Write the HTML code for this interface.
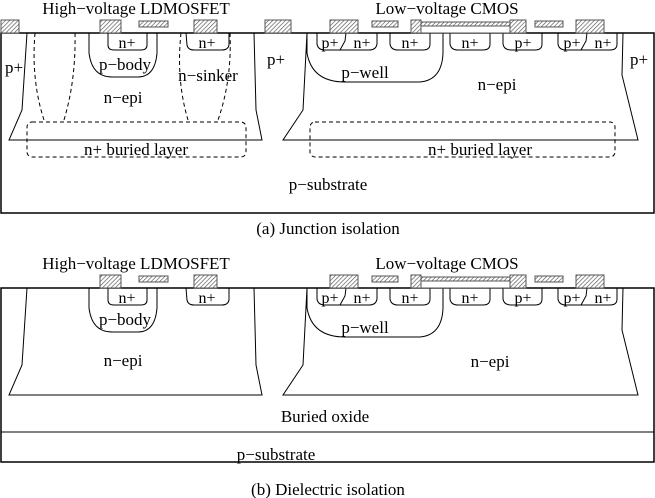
<!DOCTYPE html>
<html><head><style>
body{margin:0;background:#fff;}
svg{display:block;}
text{font-family:"Liberation Serif",serif;font-size:17px;fill:#000;}
.s{font-size:16px;}
</style></head><body>
<svg width="655" height="498" viewBox="0 0 655 498" xmlns="http://www.w3.org/2000/svg">
<defs>
<pattern id="h" width="3" height="3" patternUnits="userSpaceOnUse" patternTransform="rotate(45)">
<rect width="3" height="3" fill="#fff"/><line x1="0" y1="0" x2="0" y2="3" stroke="#555" stroke-width="1.3"/>
</pattern>
<g id="common" fill="none" stroke="#000" stroke-width="1">
<path d="M27,0 L22,77 L9,107 L262,107 L256,77 L254,0"/>
<path d="M307,0 L303,77 L283,107 L638,107 L622,42 L623,0"/>
<path d="M89,0 L89,20 Q92,44 112,44 L138,44 Q155,44 157,20 L157,0"/>
<path d="M108,0 L108,12 Q108,17 114,17 L141,17 Q147,17 147,12 L147,0"/>
<path d="M186,0 L187,12 Q188,17 194,17 L222,17 Q228,17 229,12 L229,0"/>
<path d="M307,0 L307,20 Q312,49 345,49 L420,49 Q442,47 443,20 L443,0"/>
<path d="M317,0 L317,11 Q318,17 325,17 L369,17 Q376,17 377,11 L377,0 M346,0 L345,8 L340,17"/>
<path d="M390,0 L390,11 Q391,17 398,17 L423,17 Q430,17 430,11 L430,0"/>
<path d="M450,0 L450,11 Q451,17 458,17 L483,17 Q490,17 490,11 L490,0"/>
<path d="M503,0 L503,11 Q504,17 511,17 L535,17 Q542,17 542,11 L542,0"/>
<path d="M558,0 L558,11 Q559,17 566,17 L610,17 Q617,17 617,11 L617,0 M587,0 L586,8 L581,17"/>
</g>
<g id="gates" stroke="#555" stroke-width="1">
<rect x="100" y="-13" width="21" height="13" fill="url(#h)"/>
<rect x="139" y="-12" width="29" height="6" fill="url(#h)"/>
<rect x="194" y="-13" width="23" height="13" fill="url(#h)"/>
<rect x="330" y="-13" width="28" height="13" fill="url(#h)"/>
<rect x="372" y="-12" width="26" height="6" fill="url(#h)"/>
<rect x="421" y="-11" width="89" height="4" fill="url(#h)"/>
<rect x="421" y="-7" width="89" height="7" fill="#fff"/>
<rect x="411" y="-13" width="10" height="13" fill="url(#h)"/>
<rect x="510" y="-13" width="16" height="13" fill="url(#h)"/>
<rect x="535" y="-12" width="28" height="6" fill="url(#h)"/>
<rect x="576" y="-13" width="28" height="13" fill="url(#h)"/>
</g>
</defs>

<!-- (a) -->
<rect x="1" y="33" width="653" height="180" fill="none" stroke="#000" stroke-width="1.5"/>
<use href="#common" transform="translate(0,33)"/>
<use href="#gates" transform="translate(0,33)"/>
<rect x="1" y="20" width="18" height="13" fill="url(#h)" stroke="#555"/>
<rect x="265" y="20" width="26" height="13" fill="url(#h)" stroke="#555"/>
<g fill="none" stroke="#000" stroke-dasharray="4,3">
<path d="M35,33 Q31,80 44,120"/><path d="M75,33 Q76,80 64,120"/>
<path d="M181,33 Q176,80 188,120"/><path d="M230,33 Q232,80 218,120"/>
<rect x="27" y="122" width="219" height="35" rx="5"/>
<rect x="310" y="122" width="305" height="35" rx="5"/>
</g>
<text x="136" y="14" text-anchor="middle" font-size="18">High−voltage LDMOSFET</text>
<text x="447" y="14" text-anchor="middle" font-size="18">Low−voltage CMOS</text>
<text x="5" y="73">p+</text>
<text class="s" x="127" y="48" text-anchor="middle">n+</text>
<text class="s" x="207" y="48" text-anchor="middle">n+</text>
<text x="125" y="70" text-anchor="middle">p−body</text>
<text x="208" y="81" text-anchor="middle">n−sinker</text>
<text x="123" y="103" text-anchor="middle">n−epi</text>
<text x="267" y="65">p+</text>
<text class="s" x="330" y="48" text-anchor="middle">p+</text>
<text class="s" x="362" y="48" text-anchor="middle">n+</text>
<text class="s" x="410" y="48" text-anchor="middle">n+</text>
<text class="s" x="470" y="48" text-anchor="middle">n+</text>
<text class="s" x="523" y="48" text-anchor="middle">p+</text>
<text class="s" x="572" y="48" text-anchor="middle">p+</text>
<text class="s" x="603" y="48" text-anchor="middle">n+</text>
<text x="365" y="78" text-anchor="middle">p−well</text>
<text x="497" y="90" text-anchor="middle">n−epi</text>
<text x="630" y="65">p+</text>
<text x="136" y="155" text-anchor="middle">n+ buried layer</text>
<text x="480" y="155" text-anchor="middle">n+ buried layer</text>
<text x="328" y="190" text-anchor="middle">p−substrate</text>
<text x="328" y="234" text-anchor="middle" font-size="18">(a) Junction isolation</text>

<!-- (b) -->
<rect x="1" y="288" width="653" height="174" fill="none" stroke="#000" stroke-width="1.5"/>
<line x1="1" y1="432" x2="654" y2="432" stroke="#000"/>
<use href="#common" transform="translate(0,288)"/>
<use href="#gates" transform="translate(0,288)"/>
<text x="136" y="269" text-anchor="middle" font-size="18">High−voltage LDMOSFET</text>
<text x="447" y="269" text-anchor="middle" font-size="18">Low−voltage CMOS</text>
<text class="s" x="127" y="303" text-anchor="middle">n+</text>
<text class="s" x="207" y="303" text-anchor="middle">n+</text>
<text x="125" y="325" text-anchor="middle">p−body</text>
<text x="123" y="366" text-anchor="middle">n−epi</text>
<text class="s" x="330" y="303" text-anchor="middle">p+</text>
<text class="s" x="362" y="303" text-anchor="middle">n+</text>
<text class="s" x="410" y="303" text-anchor="middle">n+</text>
<text class="s" x="470" y="303" text-anchor="middle">n+</text>
<text class="s" x="523" y="303" text-anchor="middle">p+</text>
<text class="s" x="572" y="303" text-anchor="middle">p+</text>
<text class="s" x="603" y="303" text-anchor="middle">n+</text>
<text x="365" y="333" text-anchor="middle">p−well</text>
<text x="490" y="367" text-anchor="middle">n−epi</text>
<text x="325" y="422" text-anchor="middle">Buried oxide</text>
<text x="276" y="460" text-anchor="middle">p−substrate</text>
<text x="328" y="495" text-anchor="middle" font-size="18">(b) Dielectric isolation</text>
</svg>
</body></html>
